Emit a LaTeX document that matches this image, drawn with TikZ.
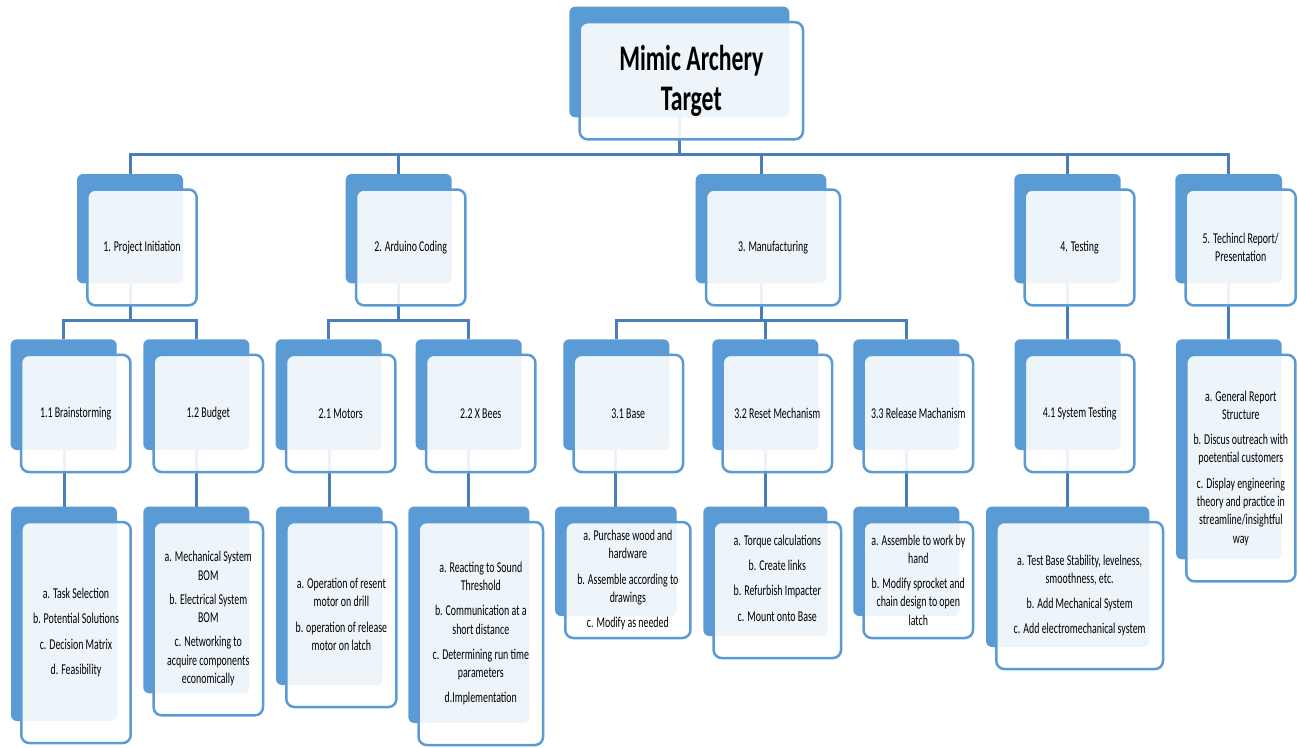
\documentclass[tikz,border=0pt]{standalone}
\usepackage{fontspec}
\setmainfont{Carlito}
\newfontfamily\condfont[FakeStretch=0.66]{Carlito}
\pgfdeclarelayer{bg}
\pgfsetlayers{bg,main}
\definecolor{connblue}{HTML}{4A7EBB}
\definecolor{boxblue}{HTML}{5B9BD5}
\tikzset{
  backbox/.style={rectangle, rounded corners=6pt, fill=boxblue, inner sep=0pt, outer sep=0pt},
  frontbox/.style={rectangle, rounded corners=8pt, draw=boxblue, line width=2.5pt, fill=white, fill opacity=0.9, draw opacity=1, inner sep=0pt, outer sep=0pt},
  lbl/.style={align=center, inner sep=0pt, text=black, font=\condfont\fontsize{15}{18.3}\selectfont},
  ttl/.style={align=center, inner sep=0pt, text=black, font=\condfont\bfseries\fontsize{36}{40}\selectfont},
  conn/.style={draw=connblue, line width=3pt},
}
% #1 name, #2 x1, #3 y1, #4 x2, #5 y2 (back box, image px)
\newcommand\wbsbox[5]{%
  \node[backbox, minimum width={#4-#2}, minimum height={#5-#3}] (#1) at ({(#2+#4)/2},{(#3+#5)/2}) {};
  \node[frontbox, minimum width={#4-#2+3.4}, minimum height={#5-#3+6.5}] (#1f) at ({(#2+#4)/2+12},{(#3+#5)/2+18.75}) {};
}
\begin{document}
\begin{tikzpicture}[x=1pt,y=-1pt]
\useasboundingbox (0,0) rectangle (1298,747);

% boxes
\wbsbox{T}{569.3}{6.7}{789.3}{117.3}
\wbsbox{A1}{77}{174}{183}{283.3}
\wbsbox{A2}{345.7}{174}{451.7}{283.3}
\wbsbox{A3}{695.7}{174}{826.3}{283.3}
\wbsbox{A4}{1014.3}{174}{1120.7}{283.3}
\wbsbox{A5}{1175.3}{174}{1282}{283.3}

\wbsbox{B11}{10.7}{339.3}{116.7}{450}
\wbsbox{B12}{143.3}{339.3}{249.3}{450}
\wbsbox{B21}{275.7}{339.3}{381.7}{450}
\wbsbox{B22}{415.7}{339.3}{521.7}{450}
\wbsbox{B31}{563.3}{339.3}{669.3}{450}
\wbsbox{B32}{712.3}{339.3}{818.3}{450}
\wbsbox{B33}{853.3}{339.3}{959.3}{450}
\wbsbox{B41}{1014.5}{339.3}{1120.7}{450}
\wbsbox{C5}{1176}{339.3}{1281.7}{559.3}

\wbsbox{C11}{11}{506.5}{117}{721}
\wbsbox{C12}{143.3}{506.5}{249.3}{693.3}
\wbsbox{C21}{276}{506.5}{382.7}{685}
\wbsbox{C22}{408.3}{506.5}{529.3}{723}
\wbsbox{C31}{555}{506.5}{676.7}{616}
\wbsbox{C32}{703.3}{506.5}{827.3}{636}
\wbsbox{C33}{853.3}{506.5}{959.3}{616}
\wbsbox{C41}{986}{506.5}{1149.3}{647}

% texts
\node[ttl] (Tt) at (Tf.center) {Mimic Archery\\Target};
\node[lbl] (A1t) at (A1f.center) {1. Project Initiation};
\node[lbl] (A2t) at (A2f.center) {2. Arduino Coding};
\node[lbl] (A3t) at (A3f.center) {3. Manufacturing};
\node[lbl] (A4t) at (A4f.center) {4. Testing};
\node[lbl] (A5t) at (A5f.center) {5. Techincl Report/\\Presentation};
\node[lbl] (B11t) at (B11f.center) {1.1 Brainstorming};
\node[lbl] (B12t) at (B12f.center) {1.2 Budget};
\node[lbl] (B21t) at (B21f.center) {2.1 Motors};
\node[lbl] (B22t) at (B22f.center) {2.2 X Bees};
\node[lbl] (B31t) at (B31f.center) {3.1 Base};
\node[lbl] (B32t) at (B32f.center) {3.2 Reset Mechanism};
\node[lbl] (B33t) at (B33f.center) {3.3 Release Machanism};
\node[lbl] (B41t) at (B41f.center) {4.1 System Testing};
\node[lbl] (C5t) at (C5f.center) {a. General Report\\Structure\\[7pt]b. Discus outreach with\\poetential customers\\[7pt]c. Display engineering\\theory and practice in\\streamline/insightful\\way};
\node[lbl] (C11t) at (C11f.center) {a. Task Selection\\[7pt]b. Potential Solutions\\[7pt]c. Decision Matrix\\[7pt]d. Feasibility};
\node[lbl] (C12t) at (C12f.center) {a. Mechanical System\\BOM\\[6pt]b. Electrical System\\BOM\\[6pt]c. Networking to\\acquire components\\economically};
\node[lbl] (C21t) at (C21f.center) {a. Operation of resent\\motor on drill\\[7pt]b. operation of release\\motor on latch};
\node[lbl] (C22t) at (C22f.center) {a. Reacting to Sound\\Threshold\\[7pt]b. Communication at a\\short distance\\[7pt]c. Determining run time\\parameters\\[7pt]d.Implementation};
\node[lbl] (C31t) at (C31f.center) {a. Purchase wood and\\hardware\\[7pt]b. Assemble according to\\drawings\\[7pt]c. Modify as needed};
\node[lbl] (C32t) at ([yshift=12pt]C32f.center) {a. Torque calculations\\[7pt]b. Create links\\[7pt]b. Refurbish Impacter\\[7pt]c. Mount onto Base};
\node[lbl] (C33t) at (C33f.center) {a. Assemble to work by\\hand\\[7pt]b. Modify sprocket and\\chain design to open\\latch};
\node[lbl] (C41t) at (C41f.center) {a. Test Base Stability, levelness,\\smoothness, etc.\\[7pt]b. Add Mechanical System\\[7pt]c. Add electromechanical system};

% connectors
\begin{pgfonlayer}{bg}
\coordinate (bar1) at (0,154.3);
\coordinate (bar2) at (0,320.7);
\draw[conn] (T.south) -- (T.south |- bar1);
\draw[conn] (A1.north) -- (A1.north |- bar1) -- (A5.north |- bar1) -- (A5.north);
\foreach \n in {A2,A3,A4} \draw[conn] (\n.north) -- (\n.north |- bar1);
% level 1 -> level 2
\draw[conn] (A1.south) -- (A1.south |- bar2);
\draw[conn] (B11.north) -- (B11.north |- bar2) -- (B12.north |- bar2) -- (B12.north);
\draw[conn] (A2.south) -- (A2.south |- bar2);
\draw[conn] (B21.north) -- (B21.north |- bar2) -- (B22.north |- bar2) -- (B22.north);
\draw[conn] (A3.south) -- (A3.south |- bar2);
\draw[conn] (B31.north) -- (B31.north |- bar2) -- (B33.north |- bar2) -- (B33.north);
\draw[conn] (B32.north) -- (B32.north |- bar2);
\draw[conn] (B41.north |- A4.south) -- (B41.north);
\draw[conn] (C5.north |- A5.south) -- (C5.north);
% level 2 -> level 3
\foreach \p/\c in {B11/C11,B12/C12,B21/C21,B22/C22,B31/C31,B32/C32,B33/C33,B41/C41}
  \draw[conn] (\c.north |- \p.south) -- (\c.north);
\end{pgfonlayer}
\end{tikzpicture}
\end{document}
